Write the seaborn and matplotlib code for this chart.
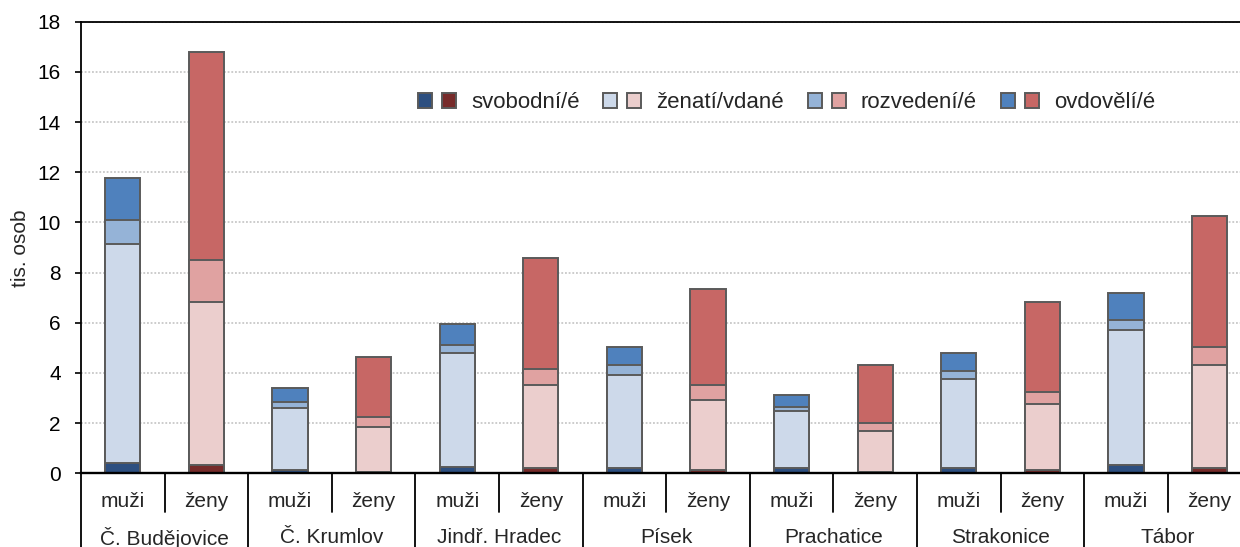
import numpy as np
import pandas as pd
import matplotlib
matplotlib.use("Agg")
import matplotlib.pyplot as plt
import seaborn as sns
from matplotlib.patches import Patch
from matplotlib.legend_handler import HandlerTuple
from matplotlib.transforms import blended_transform_factory

# ---------------- data ----------------
districts = ["Č. Budějovice", "Č. Krumlov", "Jindř. Hradec", "Písek",
             "Prachatice", "Strakonice", "Tábor"]
sexes = ["muži", "ženy"]
status_labels = ["svobodní/é", "ženatí/vdané", "rozvedení/é", "ovdovělí/é"]

svobodni_muzi = [0.42, 0.15, 0.24, 0.22, 0.22, 0.22, 0.32]
svobodne_zeny = [0.32, 0.06, 0.20, 0.13, 0.06, 0.13, 0.22]
zenati_muzi = [8.73, 2.47, 4.55, 3.68, 2.25, 3.52, 5.41]
vdane_zeny = [6.52, 1.78, 3.31, 2.81, 1.62, 2.65, 4.08]
rozvedeni_muzi = [0.94, 0.24, 0.31, 0.40, 0.17, 0.32, 0.40]
rozvedene_zeny = [1.68, 0.40, 0.63, 0.57, 0.32, 0.48, 0.73]
ovdoveli_muzi = [1.69, 0.54, 0.87, 0.73, 0.47, 0.73, 1.04]
ovdovele_zeny = [8.29, 2.39, 4.45, 3.82, 2.31, 3.58, 5.23]

y_ticks = [0, 2, 4, 6, 8, 10, 12, 14, 16, 18]

male_colors = ["#2D4F80", "#CDD9EA", "#95B3D7", "#4F81BD"]
female_colors = ["#772B2A", "#EBCECD", "#E0A2A1", "#C76765"]
edge = "#5A5A5A"

# ---------------- style ----------------
sns.set_style("white")
plt.rcParams["font.family"] = ["Liberation Sans", "DejaVu Sans"]

male_series = [svobodni_muzi, zenati_muzi, rozvedeni_muzi, ovdoveli_muzi]
female_series = [svobodne_zeny, vdane_zeny, rozvedene_zeny, ovdovele_zeny]

rows = []
for i, d in enumerate(districts):
    for sex, series in (("muži", male_series), ("ženy", female_series)):
        vals = [s[i] for s in series]
        cum = np.cumsum(vals)
        for k in range(4):
            rows.append(dict(bar=f"{d}|{sex}", district=d, sex=sex,
                             status=k, value=vals[k], top=cum[k]))
df = pd.DataFrame(rows)
order = [f"{d}|{s}" for d in districts for s in sexes]

W, H = 1240, 547
fig = plt.figure(figsize=(W / 100, H / 100), dpi=100)
ax_left, ax_right, ax_top, ax_bottom = 81, 81 + 14 * 83.6, 21.7, 473.3
ax = fig.add_axes([ax_left / W, (H - ax_bottom) / H,
                   (ax_right - ax_left) / W, (ax_bottom - ax_top) / H])

for k in [3, 2, 1, 0]:
    sub = df[df.status == k]
    sns.barplot(data=sub, x="bar", y="top", hue="sex", order=order,
                hue_order=sexes,
                palette={"muži": male_colors[k], "ženy": female_colors[k]},
                dodge=False, width=0.42, saturation=1, edgecolor=edge,
                linewidth=1.4, errorbar=None, legend=False, ax=ax)

ax.set_xlim(-0.5, len(order) - 0.5)
ax.set_ylim(0, 18)
ax.set_yticks(y_ticks)
ax.set_xlabel("")
ax.set_ylabel("")
ax.yaxis.grid(True, color="#BFBFBF", linestyle=(0, (1.2, 1.2)), linewidth=1.1)
ax.xaxis.grid(False)
ax.set_axisbelow(True)
ax.tick_params(axis="y", direction="out", length=4.5, width=1.2, pad=10,
               labelsize=15, color="black", left=True, labelcolor="black")
ax.tick_params(axis="x", length=0, labelbottom=False)
for side in ["left", "top", "bottom"]:
    ax.spines[side].set_visible(True)
    ax.spines[side].set_color("black")
ax.spines["left"].set_linewidth(1.3)
ax.spines["top"].set_linewidth(1.3)
ax.spines["bottom"].set_linewidth(1.7)
ax.spines["right"].set_visible(False)

# category separators and labels below the axis
trans = blended_transform_factory(ax.transData, ax.transAxes)
for i in range(len(order) + 1):
    x = i - 0.5
    y0 = -0.17 if i % 2 == 0 else -0.085
    ax.plot([x, x], [0, y0], transform=trans, color="black", lw=1.3,
            clip_on=False)
for idx, b in enumerate(order):
    ax.text(idx, -0.063, b.split("|")[1], transform=trans, ha="center",
            va="center", fontsize=15)
for i, d in enumerate(districts):
    ax.text(2 * i + 0.5, -0.143, d, transform=trans, ha="center",
            va="center", fontsize=15)

fig.text(20 / W, 0.547, "tis. osob", rotation=90, ha="center", va="center",
         fontsize=15)

handles = [(Patch(fc=male_colors[k], ec=edge, lw=1.4),
            Patch(fc=female_colors[k], ec=edge, lw=1.4)) for k in range(4)]
fig.legend(handles, status_labels,
           handler_map={tuple: HandlerTuple(ndivide=None, pad=0.44)},
           loc="center left", bbox_to_anchor=(418 / W, 1 - 103 / H),
           bbox_transform=fig.transFigure, ncol=4, frameon=False,
           fontsize=16, handlelength=1.7, handleheight=0.65,
           handletextpad=0.68, columnspacing=1.08, borderpad=0,
           borderaxespad=0)

fig.savefig("out.png", dpi=100)
